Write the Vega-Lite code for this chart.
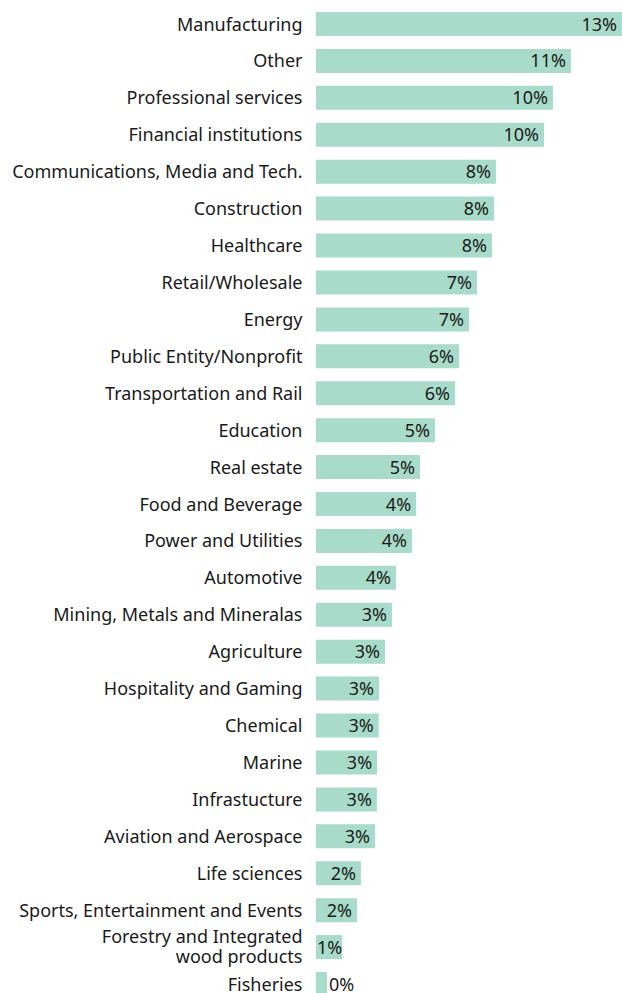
{
  "$schema": "https://vega.github.io/schema/vega-lite/v6.json",
  "autosize": {"type": "none"},
  "width": 306,
  "height": 993,
  "padding": {"left": 316, "top": 0, "right": 0, "bottom": 0},
  "background": "white",
  "config": {
    "view": {"stroke": null},
    "font": "Noto Sans",
    "text": {"font": "Noto Sans", "fontSize": 18, "color": "#1a1a1a"}
  },
  "data": {
    "values": [
      {"sector": "Manufacturing", "v": 0.1342},
      {"sector": "Other", "v": 0.1118},
      {"sector": "Professional services", "v": 0.1039},
      {"sector": "Financial institutions", "v": 0.1000},
      {"sector": "Communications, Media and Tech.", "v": 0.0789},
      {"sector": "Construction", "v": 0.0781},
      {"sector": "Healthcare", "v": 0.0772},
      {"sector": "Retail/Wholesale", "v": 0.0706},
      {"sector": "Energy", "v": 0.0671},
      {"sector": "Public Entity/Nonprofit", "v": 0.0627},
      {"sector": "Transportation and Rail", "v": 0.0610},
      {"sector": "Education", "v": 0.0522},
      {"sector": "Real estate", "v": 0.0456},
      {"sector": "Food and Beverage", "v": 0.0439},
      {"sector": "Power and Utilities", "v": 0.0421},
      {"sector": "Automotive", "v": 0.0351},
      {"sector": "Mining, Metals and Mineralas", "v": 0.0333},
      {"sector": "Agriculture", "v": 0.0303},
      {"sector": "Hospitality and Gaming", "v": 0.0276},
      {"sector": "Chemical", "v": 0.0275},
      {"sector": "Marine", "v": 0.0268},
      {"sector": "Infrastucture", "v": 0.0267},
      {"sector": "Aviation and Aerospace", "v": 0.0259},
      {"sector": "Life sciences", "v": 0.0197},
      {"sector": "Sports, Entertainment and Events", "v": 0.0180},
      {"sector": "Forestry and Integrated wood products", "v": 0.0114},
      {"sector": "Fisheries", "v": 0.0048}
    ]
  },
  "encoding": {
    "y": {
      "field": "sector",
      "type": "nominal",
      "sort": null,
      "scale": {"range": [12, 996], "paddingInner": 0.35, "paddingOuter": 0},
      "axis": {
        "title": null,
        "ticks": false,
        "domain": false,
        "labelPadding": 14,
        "labelFont": "Noto Sans",
        "labelFontSize": 18,
        "labelColor": "#1a1a1a",
        "labelLimit": 400,
        "labelLineHeight": 20,
        "labelOffset": {"condition": {"test": "datum.value == 'Forestry and Integrated wood products'", "value": -9}, "value": 1.5},
        "labelExpr": "datum.value == 'Forestry and Integrated wood products' ? ['Forestry and Integrated', 'wood products'] : datum.value"
      }
    }
  },
  "layer": [
    {
      "mark": {"type": "bar", "color": "#a8dbc9"},
      "encoding": {
        "x": {"field": "v", "type": "quantitative", "scale": {"nice": false, "zero": true}, "axis": null}
      }
    },
    {
      "transform": [{"filter": "datum.v >= 0.015"}],
      "mark": {"type": "text", "align": "right", "baseline": "middle", "dx": -5, "dy": 1.5},
      "encoding": {
        "x": {"field": "v", "type": "quantitative"},
        "text": {"field": "v", "type": "quantitative", "format": ".0%"}
      }
    },
    {
      "transform": [{"filter": "datum.v >= 0.005 && datum.v < 0.015"}],
      "mark": {"type": "text", "align": "left", "baseline": "middle", "dx": 1, "dy": 1.5},
      "encoding": {
        "x": {"datum": 0, "type": "quantitative"},
        "text": {"field": "v", "type": "quantitative", "format": ".0%"}
      }
    },
    {
      "transform": [{"filter": "datum.v < 0.005"}],
      "mark": {"type": "text", "align": "left", "baseline": "middle", "dx": 2, "dy": 1.5},
      "encoding": {
        "x": {"field": "v", "type": "quantitative"},
        "text": {"field": "v", "type": "quantitative", "format": ".0%"}
      }
    }
  ]
}
